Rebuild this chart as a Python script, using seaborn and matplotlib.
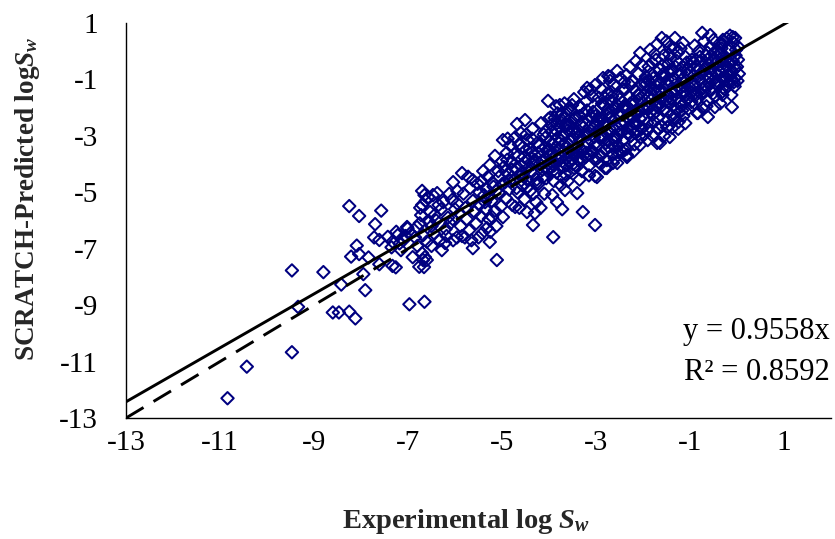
import numpy as np
import pandas as pd
import matplotlib
matplotlib.use("Agg")
import matplotlib.pyplot as plt
import seaborn as sns

# ---------------- data ----------------
exp_s1 = [-10.84, -10.43, -9.47, -9.47, -9.34, -8.80, -8.60, -8.47, -8.25, -8.12,
          -8.42, -7.91, -8.25, -8.04, -7.57, -7.70, -8.09, -8.21, -8.04, -7.84,
          -7.95, -7.61, -7.72, -7.61, -7.43, -7.33, -7.22, -7.01, -7.18, -7.33,
          -7.26, -6.97, -6.65, -6.76, -6.70, -6.72, -6.70, -6.65, -7.02, -6.81,
          -7.10, -7.05, -6.95, -7.35, -7.15, -6.90, -6.80, -6.75, -6.68, -6.85, -7.25]
pred_s1 = [-12.30, -11.18, -10.67, -7.77, -9.06, -7.83, -9.26, -9.26, -9.23, -9.47,
           -8.27, -8.47, -5.49, -5.84, -5.65, -6.13, -6.89, -7.28, -7.19, -7.31,
           -7.90, -7.55, -6.60, -6.69, -6.58, -6.75, -6.52, -6.28, -6.81, -7.61,
           -7.66, -8.97, -8.88, -7.64, -7.16, -5.81, -5.45, -5.10, -6.23, -6.23,
           -6.70, -6.55, -6.45, -6.95, -7.05, -7.30, -6.90, -6.10, -7.40, -6.60, -6.40]

exp_s2 = [-6.68, -6.64, -6.60, -6.57, -6.47, -6.38, -6.53, -6.43, -6.32, -6.21,
          -6.06, -6.04, -5.85, -6.04, -5.96, -5.79, -6.50, -6.40, -6.30, -6.20,
          -6.15, -6.10, -6.00, -6.45, -6.55, -6.25, -6.35, -6.12, -6.60, -6.28,
          -6.18, -6.05, -6.50, -6.70, -6.62, -6.74, -6.66]
pred_s2 = [-6.52, -7.30, -7.40, -5.17, -5.10, -5.03, -5.70, -5.80, -6.70, -6.80,
           -5.27, -4.64, -4.32, -6.70, -6.60, -6.60, -6.20, -6.00, -5.60, -6.30,
           -5.90, -6.10, -5.60, -6.45, -6.05, -5.35, -5.45, -5.05, -6.75, -7.05,
           -6.55, -5.95, -6.90, -4.95, -5.30, -5.55, -7.65]

exp_s3 = [-5.62, -5.32, -5.26, -5.11, -5.62, -5.26, -4.98, -5.21,
          -5.95, -5.90, -5.88, -5.82, -5.78, -5.75, -5.70, -5.68, -5.62, -5.58,
          -5.55, -5.52, -5.48, -5.45, -5.42, -5.38, -5.35, -5.30, -5.28, -5.22,
          -5.18, -5.15, -5.12, -5.08, -5.05, -5.02, -5.00, -5.72, -5.40, -5.95,
          -5.85, -5.50, -5.25, -5.65, -5.15, -4.98]
pred_s3 = [-6.98, -6.27, -6.76, -7.40, -4.57, -4.03, -5.88, -5.88,
           -5.40, -5.75, -6.20, -5.05, -5.55, -5.95, -6.35, -4.85, -5.30, -5.70,
           -6.10, -4.70, -5.45, -5.85, -6.45, -5.10, -5.60, -4.45, -5.95, -5.30,
           -4.80, -5.65, -6.20, -4.25, -5.05, -5.50, -3.90, -4.45, -4.25, -4.95,
           -6.55, -6.60, -6.40, -6.70, -3.71, -3.15]

exp_s4 = [-4.68, -4.51, -4.02, -4.72, -4.47, -4.30, -4.34,
          -4.96, -4.94, -4.92, -4.90, -4.87, -4.85, -4.82, -4.80, -4.78, -4.75,
          -4.72, -4.70, -4.67, -4.65, -4.62, -4.60, -4.57, -4.55, -4.52, -4.50,
          -4.47, -4.45, -4.42, -4.40, -4.37, -4.35, -4.32, -4.30, -4.27, -4.25,
          -4.22, -4.20, -4.17, -4.15, -4.12, -4.10, -4.07, -4.05, -4.03, -4.01,
          -4.88, -4.63, -4.48, -4.33, -4.18, -4.08]
pred_s4 = [-2.58, -2.44, -1.76, -5.52, -5.70, -5.74, -6.16,
           -4.10, -4.65, -5.20, -3.60, -4.35, -4.90, -3.35, -3.95, -5.45, -4.55,
           -3.05, -4.15, -5.00, -3.70, -4.40, -2.90, -4.75, -3.40, -5.25, -3.95,
           -4.55, -3.15, -4.10, -4.95, -3.60, -2.75, -4.35, -3.85, -5.35, -3.25,
           -4.70, -4.00, -2.55, -3.50, -4.45, -5.05, -3.05, -3.80, -4.25, -2.40,
           -3.10, -5.55, -2.95, -5.05, -5.55, -2.85]

exp_s5 = [-3.77, -3.51, -3.88, -3.60, -3.19, -3.02, -3.91, -3.28, -3.02, -3.83,
          -3.72, -3.66, -3.40, -3.55, -3.70, -3.02,
          -3.98, -3.96, -3.94, -3.92, -3.90, -3.88, -3.86, -3.84, -3.82, -3.80,
          -3.78, -3.76, -3.74, -3.72, -3.70, -3.68, -3.66, -3.64, -3.62, -3.60,
          -3.58, -3.56, -3.54, -3.52, -3.50, -3.48, -3.46, -3.44, -3.42, -3.40,
          -3.38, -3.36, -3.34, -3.32, -3.30, -3.28, -3.26, -3.24, -3.22, -3.20,
          -3.18, -3.16, -3.14, -3.12, -3.10, -3.08, -3.06, -3.04, -3.02, -3.00,
          -3.93, -3.75, -3.60, -3.47, -3.35, -3.15, -3.85, -3.67, -3.25, -3.12]
pred_s5 = [-1.91, -1.91, -2.37, -2.08, -1.30, -1.20, -6.59, -5.70, -6.16, -5.35,
           -5.60, -4.92, -5.03, -4.28, -4.50, -4.42,
           -3.20, -4.10, -2.60, -3.65, -4.60, -2.95, -3.40, -4.30, -2.20, -3.85,
           -2.70, -3.15, -4.05, -2.45, -3.55, -3.00, -4.35, -2.25, -3.80, -2.80,
           -3.30, -3.95, -2.10, -2.55, -3.60, -3.05, -4.15, -2.35, -3.40, -2.85,
           -3.85, -1.95, -3.15, -2.60, -4.25, -3.55, -2.20, -2.95, -3.75, -1.75,
           -3.25, -2.45, -4.05, -2.80, -3.50, -1.60, -2.15, -3.05, -3.85, -2.55,
           -5.10, -4.75, -4.60, -1.70, -4.55, -4.40, -1.95, -1.85, -1.45, -1.35]

exp_s6 = [-2.74, -2.70, -2.28, -2.02, -2.06, -2.98, -2.81, -2.77, -2.64, -2.55,
          -2.34, -2.34, -2.55, -2.77, -2.06,
          -2.98, -2.96, -2.94, -2.92, -2.90, -2.88, -2.86, -2.84, -2.82, -2.80,
          -2.78, -2.76, -2.74, -2.72, -2.70, -2.68, -2.66, -2.64, -2.62, -2.60,
          -2.58, -2.56, -2.54, -2.52, -2.50, -2.48, -2.46, -2.44, -2.42, -2.40,
          -2.38, -2.36, -2.34, -2.32, -2.30, -2.28, -2.26, -2.24, -2.22, -2.20,
          -2.18, -2.16, -2.14, -2.12, -2.10, -2.08, -2.06, -2.04, -2.02, -2.00,
          -2.90, -2.60, -2.45, -2.20, -2.85, -2.55, -2.35, -2.15, -2.70, -2.40]
pred_s6 = [-0.88, -0.91, -0.56, -0.49, -0.06, -4.46, -4.14, -4.14, -3.96, -3.96,
           -3.68, -3.75, -3.57, -3.86, -3.32,
           -2.10, -3.30, -1.65, -2.75, -3.70, -1.35, -2.40, -3.05, -1.95, -3.50,
           -2.60, -1.50, -3.20, -2.20, -2.90, -1.75, -3.65, -2.45, -1.20, -3.00,
           -2.05, -2.70, -1.55, -3.35, -2.30, -0.95, -2.85, -1.80, -3.15, -2.50,
           -1.35, -2.05, -3.45, -2.70, -1.60, -2.25, -3.00, -1.05, -1.90, -2.55,
           -3.30, -1.40, -2.15, -2.85, -0.80, -1.70, -2.40, -3.05, -1.20, -2.00,
           -4.00, -3.80, -3.55, -3.55, -0.95, -0.70, -0.85, -0.35, -1.05, -1.10]

exp_s7 = [-1.60, -1.32, -1.15, -1.26, -1.43, -1.70, -1.64, -1.38, -1.68, -1.47, -1.43,
          -1.98, -1.96, -1.94, -1.92, -1.90, -1.88, -1.86, -1.84, -1.82, -1.80,
          -1.78, -1.76, -1.74, -1.72, -1.70, -1.68, -1.66, -1.64, -1.62, -1.60,
          -1.58, -1.56, -1.54, -1.52, -1.50, -1.48, -1.46, -1.44, -1.42, -1.40,
          -1.38, -1.36, -1.34, -1.32, -1.30, -1.28, -1.26, -1.24, -1.22, -1.20,
          -1.18, -1.16, -1.14, -1.12, -1.10, -1.08, -1.06, -1.04, -1.02, -1.00,
          -1.85, -1.70, -1.50, -1.20, -1.90, -1.55, -1.25, -1.10, -1.75, -1.45]
pred_s7 = [0.47, 0.47, 0.29, -0.06, 0.15, -3.25, -3.25, -2.72, -2.72, -2.69, -3.04,
           -1.55, -2.40, -0.90, -1.95, -2.80, -0.55, -1.30, -2.15, -1.70, -3.00,
           -0.95, -2.50, -1.45, -0.30, -1.95, -2.35, -1.10, -0.65, -1.70, -2.65,
           -1.30, -0.15, -2.05, -0.85, -1.55, -2.45, -0.45, -1.20, -1.85, -2.25,
           -0.70, -1.45, 0.10, -1.00, -2.05, -0.35, -1.65, -2.50, -0.85, -1.30,
           -1.95, -0.55, -2.30, -1.10, -0.20, -1.55, -0.80, -2.05, -1.25, -0.50,
           0.05, 0.25, 0.35, 0.10, -3.15, -3.00, -2.75, -2.55, -0.10, -0.10]

exp_s8 = [-0.74, -0.57, -0.36, -0.09, -0.04, -0.30, -0.85, -0.62, -0.47, -0.11,
          -0.83, -0.32, -0.30, -0.11,
          -0.98, -0.96, -0.94, -0.92, -0.90, -0.88, -0.86, -0.84, -0.82, -0.80,
          -0.78, -0.76, -0.74, -0.72, -0.70, -0.68, -0.66, -0.64, -0.62, -0.60,
          -0.58, -0.56, -0.54, -0.52, -0.50, -0.48, -0.46, -0.44, -0.42, -0.40,
          -0.38, -0.36, -0.34, -0.32, -0.30, -0.28, -0.26, -0.24, -0.22, -0.20,
          -0.18, -0.16, -0.14, -0.12, -0.10, -0.08, -0.06, -0.04, -0.02, 0.00,
          0.02, 0.03, 0.04, -0.05, -0.15]
pred_s8 = [0.65, 0.57, 0.29, 0.50, 0.47, 0.40, -2.19, -2.33, -1.98, -1.98,
           -2.19, -1.45, -1.30, -1.06,
           -1.45, -0.30, -1.95, -0.85, 0.20, -1.20, -0.55, -1.70, 0.00, -1.00,
           -0.35, -1.50, -2.00, -0.70, 0.35, -1.25, -0.15, -1.75, -0.90, -0.45,
           0.15, -1.40, -0.65, -1.05, 0.40, -0.25, -1.60, -0.80, 0.05, -1.20,
           -0.50, -1.85, -0.10, -0.95, 0.25, -0.60, -1.35, -0.30, 0.45, -0.85,
           -1.10, 0.10, -0.45, -1.55, -0.70, 0.30, -0.20, -0.95, 0.05, -0.55,
           -0.30, 0.15, -0.80, -1.25, 0.55]

# extra points in the dense core of the cloud
exp_c1 = [-5.48, -5.44, -5.36, -5.33, -5.27, -5.20, -5.13, -5.06, -4.99, -4.93,
          -4.89, -4.84, -4.79, -4.74, -4.69, -4.64, -4.59, -4.54, -4.49, -4.44,
          -4.39, -4.36, -4.31, -4.26, -4.21, -4.16, -4.11, -4.06, -4.04, -4.00]
pred_c1 = [-5.00, -4.60, -5.35, -4.90, -5.15, -4.65, -4.95, -4.45, -4.70, -4.25,
           -3.85, -4.60, -4.20, -3.65, -4.85, -3.30, -4.05, -4.45, -3.50, -3.85,
           -4.25, -3.10, -3.95, -4.55, -3.35, -3.90, -2.95, -4.50, -3.55, -4.00]

exp_c2 = [-3.99, -3.95, -3.91, -3.87, -3.83, -3.79, -3.75, -3.71, -3.67, -3.63,
          -3.59, -3.55, -3.51, -3.47, -3.43, -3.39, -3.35, -3.31, -3.27, -3.23,
          -3.19, -3.15, -3.11, -3.07, -3.03, -3.97, -3.81, -3.65, -3.49, -3.33,
          -3.17, -3.89, -3.73, -3.57, -3.41]
pred_c2 = [-3.70, -2.85, -3.30, -3.95, -2.55, -3.45, -3.75, -2.95, -3.30, -4.05,
           -2.60, -3.15, -3.85, -2.40, -2.95, -3.55, -2.30, -3.80, -2.70, -3.40,
           -2.10, -3.65, -2.30, -2.75, -3.30, -2.35, -3.05, -2.60, -4.00, -2.00,
           -2.95, -4.05, -2.25, -3.60, -4.10]

exp_c3 = [-2.99, -2.95, -2.91, -2.87, -2.83, -2.79, -2.75, -2.71, -2.67, -2.63,
          -2.59, -2.55, -2.51, -2.47, -2.43, -2.39, -2.35, -2.31, -2.27, -2.23,
          -2.19, -2.15, -2.11, -2.07, -2.03, -2.97, -2.81, -2.65, -2.49, -2.33,
          -2.17, -2.89, -2.73, -2.57, -2.41]
pred_c3 = [-2.85, -2.35, -3.10, -1.85, -2.60, -3.25, -2.05, -2.75, -1.45, -3.35,
           -2.40, -1.90, -2.95, -2.55, -1.35, -3.50, -1.95, -2.95, -1.20, -2.75,
           -1.75, -2.55, -1.55, -2.10, -2.75, -3.80, -1.65, -2.05, -1.70, -2.35,
           -2.90, -2.40, -3.40, -3.05, -1.95]

exp_c4 = [-1.99, -1.95, -1.91, -1.87, -1.83, -1.79, -1.75, -1.71, -1.67, -1.63,
          -1.59, -1.55, -1.51, -1.47, -1.43, -1.39, -1.35, -1.31, -1.27, -1.23,
          -1.19, -1.15, -1.11, -1.07, -1.03, -1.97, -1.81, -1.65, -1.49, -1.33,
          -1.17, -1.89, -1.73, -1.57, -1.41]
pred_c4 = [-2.05, -1.20, -2.55, -1.60, -0.80, -2.25, -1.35, -1.05, -2.75, -1.45,
           -0.50, -2.10, -1.15, -1.80, -0.70, -1.65, -2.35, -0.55, -1.25, -1.85,
           -0.75, -1.50, -1.80, -0.40, -1.65, -2.95, -0.40, -1.90, -2.70, -2.40,
           -2.10, -1.05, -2.15, -0.80, -0.25]

exp_c5 = [-0.99, -0.95, -0.91, -0.87, -0.83, -0.79, -0.75, -0.71, -0.67, -0.63,
          -0.59, -0.55, -0.51, -0.47, -0.43, -0.39, -0.35, -0.31, -0.27, -0.23,
          -0.19, -0.15, -0.11, -0.07, -0.03, -0.97, -0.81, -0.65, -0.49, -0.33]
pred_c5 = [-0.75, -1.20, -0.40, -1.55, -0.90, -0.20, -1.10, -1.30, -0.60, -0.05,
           -1.15, -0.80, -1.50, -0.45, -1.05, -0.10, -0.75, -1.55, -0.95, -0.50,
           0.05, -0.65, -0.35, -1.10, -0.15, -1.80, -1.45, -1.95, -0.05, 0.10]

exp_d1 = [-4.58, -4.53, -4.46, -4.41, -4.34, -4.28, -4.23, -4.14, -4.09, -3.98,
          -3.92, -3.86, -3.78, -3.71, -3.64, -3.56, -3.49, -3.42, -3.36, -3.29,
          -3.21, -3.14, -3.07, -3.01]
pred_d1 = [-4.30, -3.75, -4.80, -3.45, -4.00, -4.70, -3.60, -4.20, -3.40, -3.50,
           -4.25, -2.80, -3.25, -3.90, -2.65, -3.50, -2.75, -3.65, -3.05, -2.50,
           -3.60, -2.90, -3.60, -2.30]

exp_d2 = [-2.97, -2.91, -2.85, -2.78, -2.72, -2.66, -2.59, -2.53, -2.46, -2.40,
          -2.33, -2.27, -2.21, -2.14, -2.08, -2.02, -1.96, -1.89, -1.83, -1.77,
          -1.70, -1.64, -1.58, -1.52]
pred_d2 = [-2.45, -3.00, -1.90, -2.90, -2.35, -1.60, -3.15, -2.20, -2.60, -1.95,
           -2.90, -1.85, -2.35, -2.60, -1.55, -2.70, -1.10, -2.05, -1.50, -2.05,
           -1.25, -2.00, -0.90, -1.75]

exp_d3 = [-1.47, -1.41, -1.35, -1.29, -1.23, -1.17, -1.11, -1.05, -0.99, -0.93,
          -0.87, -0.81, -0.75, -0.69, -0.63, -0.57, -0.51, -0.45, -0.39, -0.33,
          -0.27, -0.21, -0.15, -0.09, -0.03, 0.01]
pred_d3 = [-1.00, -1.70, -0.95, -1.40, -2.15, -1.00, -1.45, -0.65, -1.10, -1.55,
           -0.30, -0.65, -0.80, -1.45, -0.30, -0.95, -0.35, -1.15, -0.70, -0.35,
           -1.05, -0.55, -0.85, -0.35, -0.60, -1.05]

slope = 0.9558
r_squared = 0.8592
x_ticks = [-13, -11, -9, -7, -5, -3, -1, 1]
y_ticks = [-13, -11, -9, -7, -5, -3, -1, 1]

exp_all = (exp_s1 + exp_s2 + exp_s3 + exp_s4 + exp_s5 + exp_s6 + exp_s7 + exp_s8
           + exp_c1 + exp_c2 + exp_c3 + exp_c4 + exp_c5 + exp_d1 + exp_d2 + exp_d3)
pred_all = (pred_s1 + pred_s2 + pred_s3 + pred_s4 + pred_s5 + pred_s6 + pred_s7 + pred_s8
            + pred_c1 + pred_c2 + pred_c3 + pred_c4 + pred_c5 + pred_d1 + pred_d2 + pred_d3)
df = pd.DataFrame({"exp": exp_all, "pred": pred_all})

# ---------------- style ----------------
sns.set_theme(style="white")
plt.rcParams["font.family"] = ["Liberation Serif", "DejaVu Serif"]
plt.rcParams["mathtext.fontset"] = "custom"
plt.rcParams["mathtext.rm"] = "Liberation Serif:bold"
plt.rcParams["mathtext.it"] = "Liberation Serif:italic:bold"
plt.rcParams["mathtext.bf"] = "Liberation Serif:bold"

fig = plt.figure(figsize=(8.35, 5.39), dpi=100)
ax = fig.add_axes([126 / 835, 1 - 418 / 539, (831 - 126) / 835, (418 - 23) / 539])

navy = "#000080"
sns.scatterplot(data=df, x="exp", y="pred", ax=ax, marker="D", s=40,
                facecolors="none", edgecolor=navy, linewidth=1.45, zorder=2,
                legend=False)
for coll in ax.collections:
    coll.set_facecolor("none")
    coll.set_edgecolor(navy)

fit_x = np.array([-13.0, 2.0])
sns.lineplot(x=fit_x, y=slope * fit_x, ax=ax, color="black", linewidth=2.1,
             zorder=3, legend=False)
ideal_x = np.array([-13.0, 0.0])
sns.lineplot(x=ideal_x, y=ideal_x, ax=ax, color="black", linewidth=2.1,
             zorder=3, legend=False)
ax.lines[-1].set_dashes([7, 4])

ax.set_xlim(-13, 2)
ax.set_ylim(-13, 1)
ax.set_xticks(x_ticks)
ax.set_yticks(y_ticks)
ax.set_xticklabels([str(t) for t in x_ticks])
ax.set_yticklabels([str(t) for t in y_ticks])
ax.tick_params(axis="both", direction="out", length=6, width=1.0, color="black",
               labelsize=21, labelcolor="black")
ax.tick_params(axis="y", pad=14)
ax.tick_params(axis="x", pad=3)
for side in ["top", "right"]:
    ax.spines[side].set_visible(False)
for side in ["left", "bottom"]:
    ax.spines[side].set_color("black")
    ax.spines[side].set_linewidth(1.0)
ax.grid(False)

ax.set_xlabel(r"Experimental log $S_w$", fontsize=20.5, fontweight="bold", va="center")
ax.set_ylabel(r"SCRATCH-Predicted log$S_w$", fontsize=19.5, fontweight="bold", va="center")
ax.xaxis.set_label_coords(0.482, -0.262)
ax.yaxis.set_label_coords(-0.140, 0.554)

ax.text(830 / 835, 1 - 331 / 539, "y = %.4fx" % slope, transform=fig.transFigure,
        ha="right", va="center", fontsize=22, color="black")
ax.text(830 / 835, 1 - 372 / 539, "R\u00b2 = %.4f" % r_squared, transform=fig.transFigure,
        ha="right", va="center", fontsize=22, color="black")

fig.savefig("out.png", dpi=100)
